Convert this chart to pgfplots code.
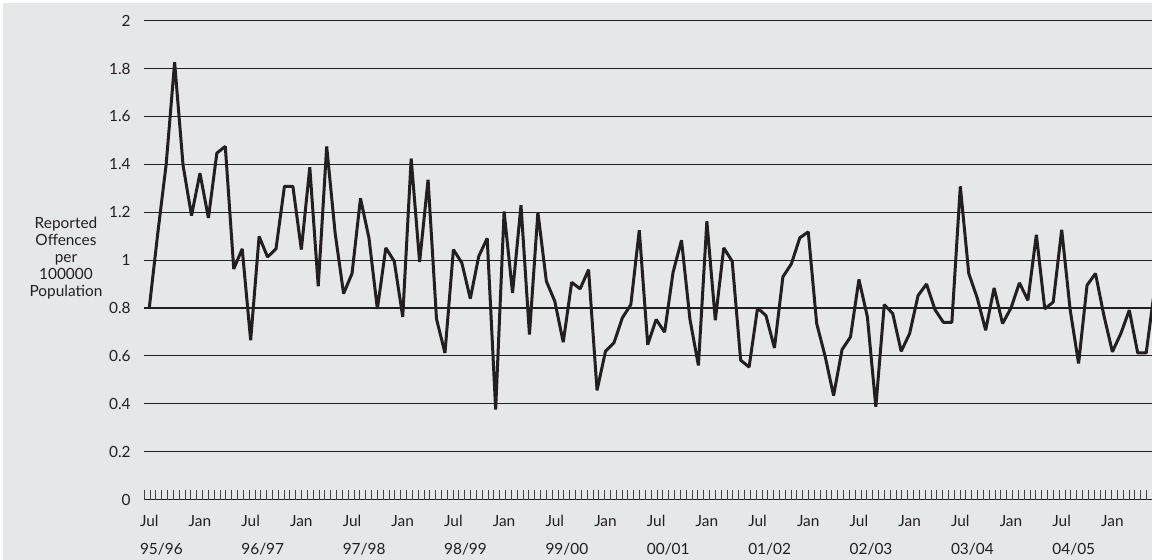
\documentclass[border=0pt]{standalone}
\usepackage{pgfplots}
\pgfplotsset{compat=1.18}
\usepackage{pgfplotstable}
\usepackage{calc}
\usepackage{fontspec}
\setmainfont{Lato}
\definecolor{bg}{HTML}{E6E7E8}
\definecolor{ink}{HTML}{231F20}
\newcommand\yl[1]{\makebox[\widthof{Jul}][l]{#1}}

\pgfplotstableread{
i v
0 0.800
1 1.110
2 1.400
3 1.826
4 1.396
5 1.186
6 1.363
7 1.176
8 1.447
9 1.475
10 0.963
11 1.047
12 0.665
13 1.099
14 1.013
15 1.047
16 1.308
17 1.308
18 1.044
19 1.388
20 0.891
21 1.475
22 1.113
23 0.860
24 0.944
25 1.258
26 1.093
27 0.796
28 1.051
29 0.995
30 0.763
31 1.424
32 0.992
33 1.336
34 0.754
35 0.612
36 1.044
37 0.988
38 0.839
39 1.016
40 1.091
41 0.376
42 1.203
43 0.863
44 1.229
45 0.689
46 1.200
47 0.912
48 0.828
49 0.657
50 0.907
51 0.880
52 0.960
53 0.456
54 0.619
55 0.654
56 0.759
57 0.814
58 1.125
59 0.647
60 0.752
61 0.699
62 0.949
63 1.083
64 0.752
65 0.560
66 1.162
67 0.749
68 1.051
69 0.995
70 0.582
71 0.553
72 0.800
73 0.768
74 0.633
75 0.930
76 0.984
77 1.093
78 1.118
79 0.735
80 0.598
81 0.434
82 0.626
83 0.679
84 0.919
85 0.763
86 0.387
87 0.814
88 0.777
89 0.619
90 0.693
91 0.852
92 0.900
93 0.793
94 0.740
95 0.740
96 1.308
97 0.944
98 0.842
99 0.707
100 0.884
101 0.735
102 0.800
103 0.905
104 0.832
105 1.106
106 0.796
107 0.825
108 1.127
109 0.793
110 0.568
111 0.895
112 0.944
113 0.768
114 0.617
115 0.693
116 0.791
117 0.612
118 0.612
119 0.880
}\offences

\begin{document}
\begin{tikzpicture}
\fill[white] (-72.1bp,-30.25bp) rectangle (503.9bp,249.75bp);
\path[use as bounding box] (-72.1bp,-30.25bp) rectangle (503.9bp,249.75bp);
\fill[bg] (-70.4bp,-30.25bp) rectangle (503.9bp,248.25bp);
\begin{axis}[
  at={(0,0)}, anchor=south west,
  scale only axis,
  width=503.9bp, height=239.4bp,
  xmin=-0.6, xmax=118.69,
  ymin=0, ymax=2,
  ytick={0,0.2,0.4,0.6,0.8,1,1.2,1.4,1.6,1.8,2},
  ymajorgrids,
  major grid style={ink, line width=0.55bp},
  axis line style={draw=none},
  tick pos=left,
  major tick length=0pt,
  minor tick length=4.6bp,
  tick align=inside,
  minor tick style={ink!85, line width=0.5bp},
  xtick={0,6,...,114},
  xticklabels={Jul,Jan,Jul,Jan,Jul,Jan,Jul,Jan,Jul,Jan,Jul,Jan,Jul,Jan,Jul,Jan,Jul,Jan,Jul,Jan},
  minor xtick={-0.59,0.0998,...,118.7},
  extra x ticks={0,12,...,108},
  extra x tick labels={\yl{95/96},\yl{96/97},\yl{97/98},\yl{98/99},\yl{99/00},\yl{00/01},\yl{01/02},\yl{02/03},\yl{03/04},\yl{04/05}},
  extra x tick style={grid=none, major tick length=0pt, tick label style={yshift=-14bp}},
  /pgf/number format/assume math mode=true,
  tick label style={font=\fontsize{7.7bp}{8.5bp}\selectfont, text=ink, inner sep=0pt},
  xticklabel style={anchor=north, yshift=-7.6bp},
  yticklabel style={anchor=east, xshift=-6.6bp},
  ylabel={Reported\\Offences\\per\\100000\\Population},
  ylabel style={rotate=-90, align=center, at={(axis description cs:-0.0776,0.505)}, anchor=center,
    font=\fontsize{7.7bp}{8.5bp}\selectfont, text=ink, inner sep=0pt},
  clip=true,
]
\addplot[ink, line width=1.5bp, line join=bevel, mark=none] table[x=i, y=v] {\offences};
\end{axis}
\end{tikzpicture}
\end{document}
